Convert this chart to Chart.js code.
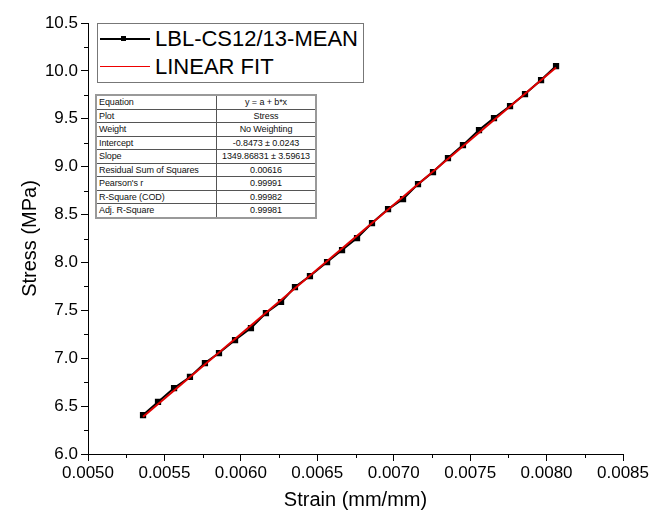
<!DOCTYPE html>
<html lang="en">
<head>
  <meta charset="UTF-8">
  <title>Stress vs Strain</title>
  <script src="https://cdn.jsdelivr.net/npm/chart.js"></script>
  <style>
    body { margin: 0; background: #fff; font-family: "Liberation Sans", Arial, sans-serif; }
    #wrap { position: relative; width: 652px; height: 518px; }
    #legend { position: absolute; left: 97px; top: 23px; width: 265px; height: 58px;
      border: 1px solid #777; background: #fff; }
    .item { position: absolute; left: 0; height: 24px; width: 265px; white-space: nowrap; }
    .item .sample { position: absolute; left: 2px; top: 11px; width: 50px; height: 0; }
    .item .mark { position: absolute; left: 23px; top: 9px; width: 5px; height: 5px; background: #000; }
    .item span { position: absolute; left: 57px; top: 0; font-size: 22px; line-height: 24px; color: #000; white-space: nowrap; }
    #stats { position: absolute; left: 95px; top: 94px; border-collapse: collapse; table-layout: fixed;
      border: 2px solid #999; font-size: 9px; width: 222px; background: #fff; }
    #stats td { border: 1px solid #555; height: 12.5px; padding: 0 2px; line-height: 12px; color: #111;
      white-space: nowrap; overflow: hidden; letter-spacing: -0.1px; }
    #stats td.k { width: 115px; }
    #stats td.v { text-align: center; }
  </style>
</head>
<body>
<div id="wrap">
  <canvas id="chart" width="652" height="518"></canvas>
  <div id="legend"></div>
  <table id="stats"></table>
</div>
<script>
  // measured points (strain, stress)
  const strain = [0.00536, 0.005458, 0.005563, 0.005667, 0.005765, 0.005857, 0.005962, 0.006066,
    0.006164, 0.006263, 0.006354, 0.006452, 0.006564, 0.006662, 0.00676, 0.006858, 0.006963,
    0.007061, 0.007159, 0.007257, 0.007355, 0.007453, 0.007558, 0.007656, 0.007761, 0.007859,
    0.007964, 0.008062];
  const stress = [6.407, 6.543, 6.689, 6.804, 6.95, 7.054, 7.19, 7.315, 7.472, 7.587, 7.743,
    7.858, 8.004, 8.129, 8.255, 8.411, 8.557, 8.662, 8.818, 8.944, 9.09, 9.225, 9.382, 9.507,
    9.633, 9.758, 9.904, 10.05];
  // fit line end points
  const fitStrain = [0.00536, 0.008062];
  const fitStress = [6.388, 10.036];

  const seriesNames = ['LBL-CS12/13-MEAN', 'LINEAR FIT'];
  const tableKeys = ['Equation', 'Plot', 'Weight', 'Intercept', 'Slope', 'Residual Sum of Squares',
    "Pearson's r", 'R-Square (COD)', 'Adj. R-Square'];
  const tableVals = ['y = a + b*x', 'Stress', 'No Weighting', '-0.8473 \u00b1 0.0243',
    '1349.86831 \u00b1 3.59613', '0.00616', '0.99991', '0.99982', '0.99981'];

  // legend + stats table as html
  const legend = document.getElementById('legend');
  legend.innerHTML =
    '<div class="item" style="top:3px"><div class="sample" style="border-top:2px solid #000"></div><div class="mark"></div><span>' + seriesNames[0] + '</span></div>' +
    '<div class="item" style="top:31px"><div class="sample" style="border-top:1px solid #e00"></div><span>' + seriesNames[1] + '</span></div>';
  document.getElementById('stats').innerHTML = tableKeys.map((k, i) =>
    '<tr><td class="k">' + k + '</td><td class="v">' + tableVals[i] + '</td></tr>').join('');

  const minorTicks = {
    id: 'minorTicks',
    afterDraw(chart) {
      const ctx = chart.ctx;
      ctx.save();
      ctx.strokeStyle = '#000';
      ctx.lineWidth = 1;
      ['x', 'y'].forEach(id => {
        const s = chart.scales[id];
        const t = s.ticks;
        for (let i = 0; i < t.length - 1; i++) {
          const mid = (t[i].value + t[i + 1].value) / 2;
          const p = Math.round(s.getPixelForValue(mid)) + 0.5;
          ctx.beginPath();
          if (id === 'x') {
            ctx.moveTo(p, s.top); ctx.lineTo(p, s.top + 4);
          } else {
            ctx.moveTo(s.right, p); ctx.lineTo(s.right - 4, p);
          }
          ctx.stroke();
        }
      });
      ctx.restore();
    }
  };

  const font = { family: '"Liberation Sans", Arial, sans-serif', size: 17 };

  new Chart(document.getElementById('chart'), {
    type: 'scatter',
    data: {
      datasets: [
        {
          label: seriesNames[1],
          data: fitStrain.map((x, i) => ({ x: x, y: fitStress[i] })),
          showLine: true,
          borderColor: '#e00000',
          borderWidth: 2,
          pointRadius: 0,
          order: 0
        },
        {
          label: seriesNames[0],
          data: strain.map((x, i) => ({ x: x, y: stress[i] })),
          showLine: true,
          borderColor: '#000',
          borderWidth: 2,
          pointStyle: 'rect',
          pointRadius: 3,
          pointBackgroundColor: '#000',
          pointBorderColor: '#000',
          order: 1
        }
      ]
    },
    options: {
      responsive: false,
      animation: false,
      layout: { padding: { left: 0, top: 23, right: 29, bottom: 0 } },
      plugins: { legend: { display: false }, tooltip: { enabled: false } },
      scales: {
        x: {
          type: 'linear',
          min: 0.005, max: 0.0085,
          afterFit: s => { s.height = 64; },
          ticks: { stepSize: 0.0005, color: '#000', font: font, padding: 2,
            callback: v => v.toFixed(4) },
          grid: { drawOnChartArea: false, tickLength: 7, color: '#000' },
          border: { color: '#000', width: 1 },
          title: { display: true, text: 'Strain (mm/mm)', color: '#000',
            font: { family: font.family, size: 20 }, padding: { top: 8, bottom: 6 } }
        },
        y: {
          type: 'linear',
          min: 6, max: 10.5,
          afterFit: s => { s.width = 88; },
          ticks: { stepSize: 0.5, color: '#000', font: font, padding: 3,
            callback: v => v.toFixed(1) },
          grid: { drawOnChartArea: false, tickLength: 7, color: '#000' },
          border: { color: '#000', width: 1 },
          title: { display: true, text: 'Stress (MPa)', color: '#000',
            font: { family: font.family, size: 20 }, padding: { top: 18, bottom: 0 } }
        }
      }
    },
    plugins: [minorTicks]
  });
</script>
</body>
</html>
